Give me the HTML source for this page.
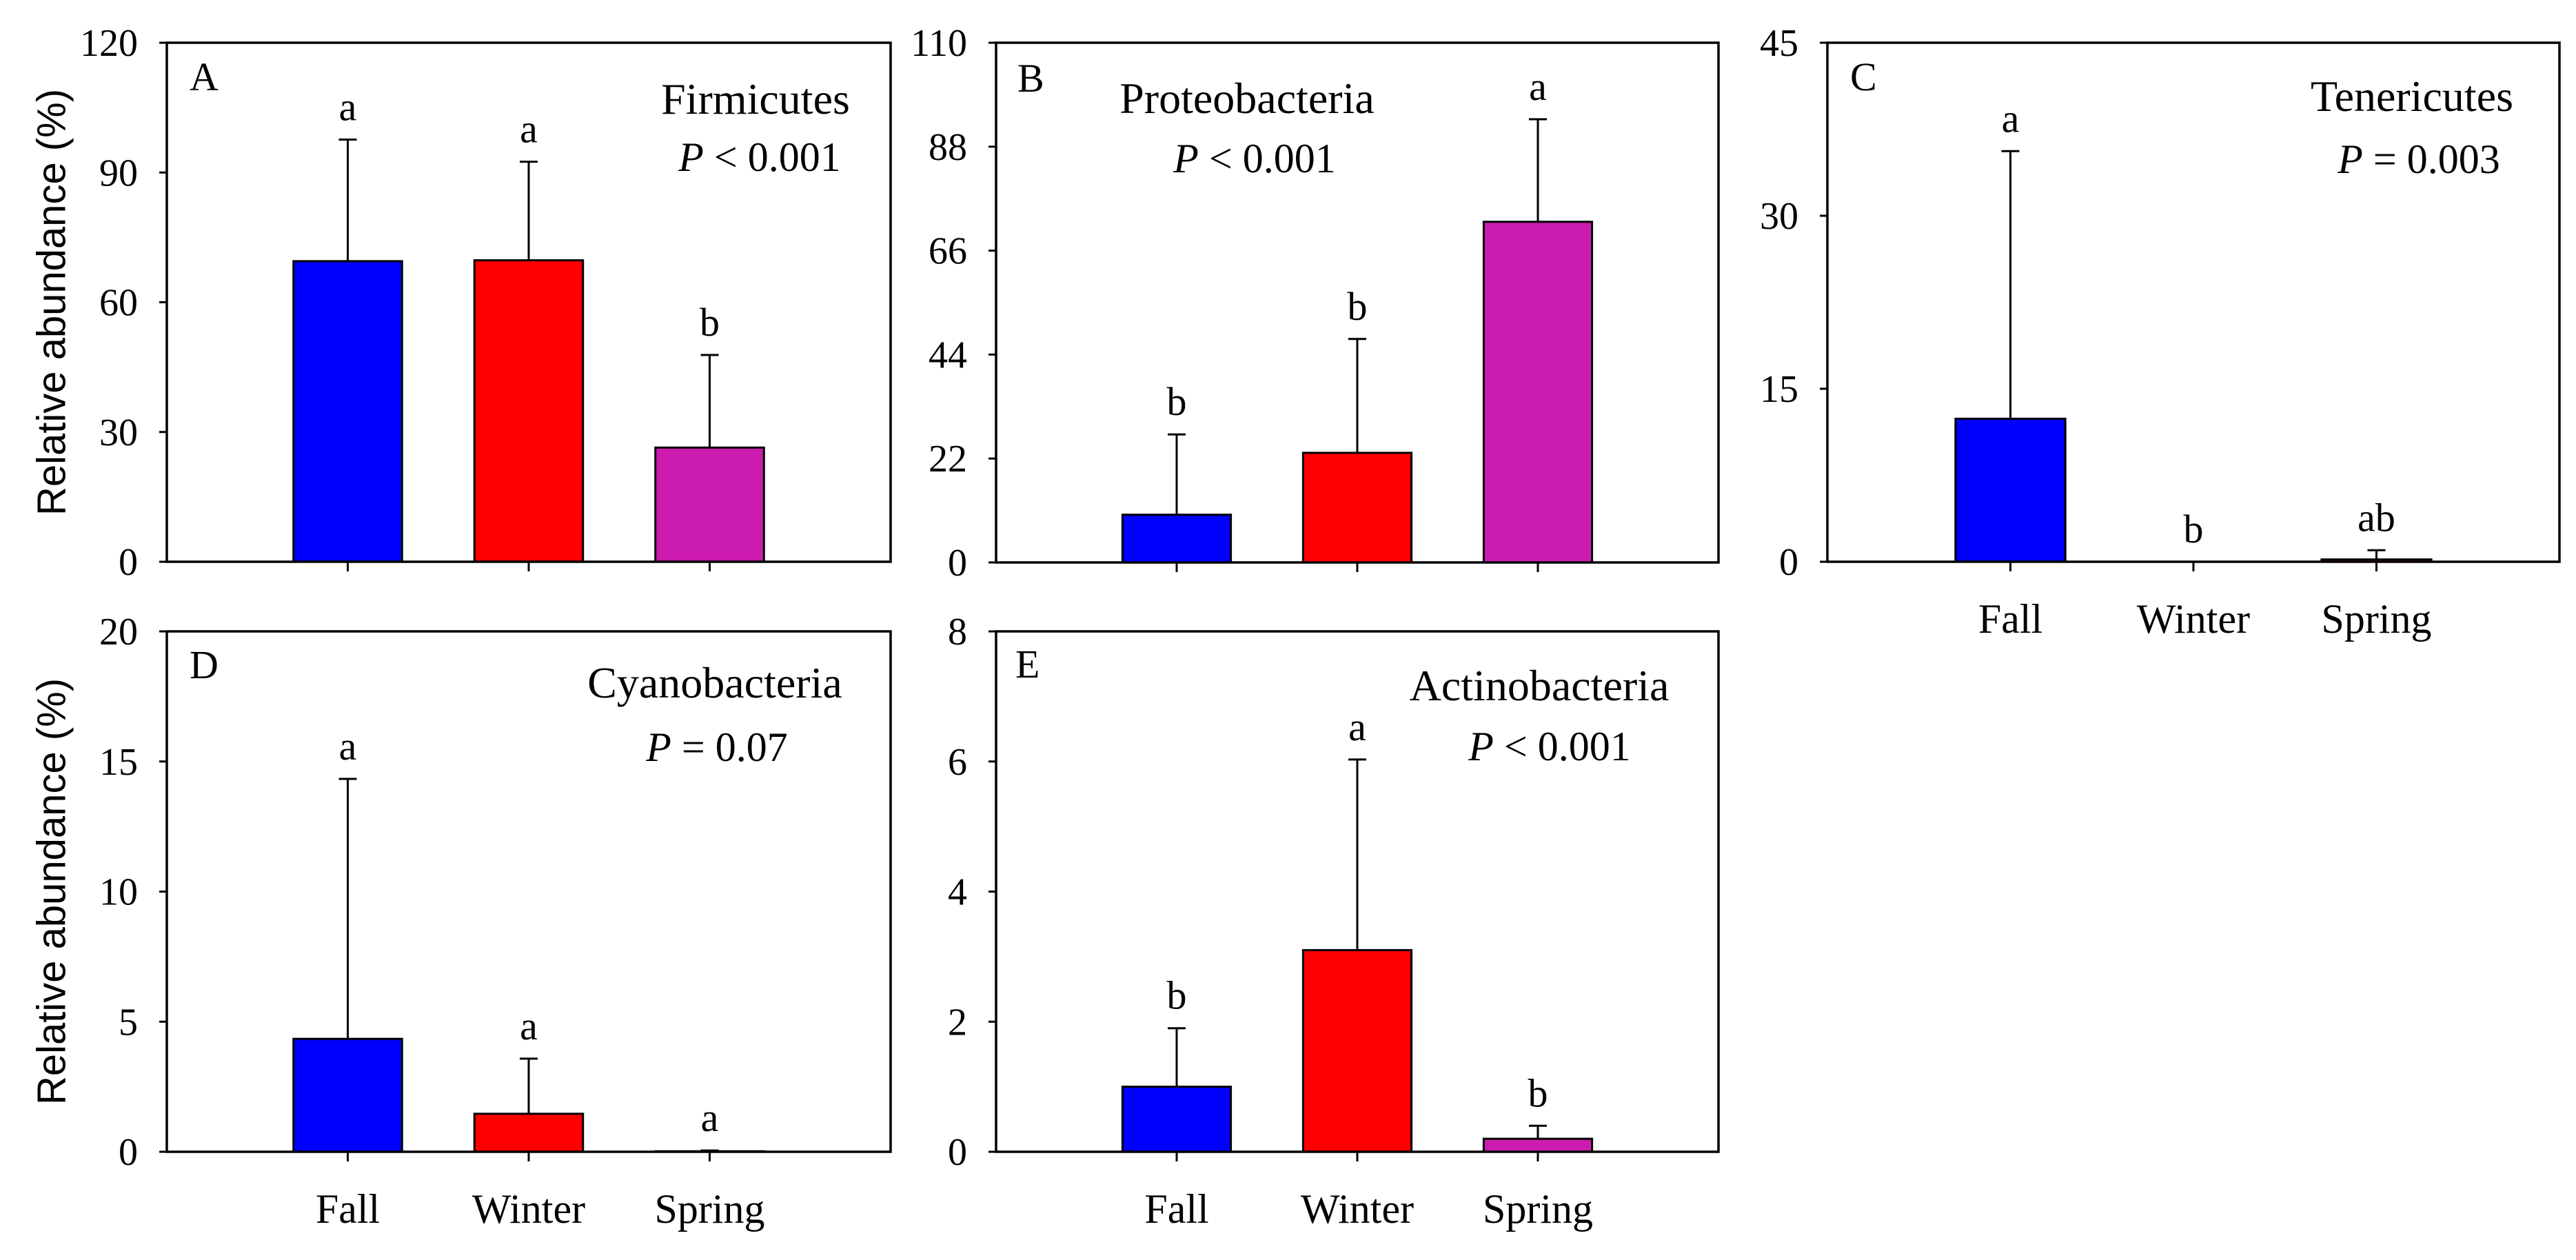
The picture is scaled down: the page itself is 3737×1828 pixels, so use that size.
<!DOCTYPE html>
<html><head><meta charset="utf-8"><style>
html,body{margin:0;padding:0;background:#fff;}
svg{display:block;}
text{font-family:"Liberation Serif",serif;fill:#000;}
</style></head>
<body>
<svg id="fig" width="3737" height="1828" viewBox="0 0 3737 1828" xmlns="http://www.w3.org/2000/svg"></svg>
<script>
const categories = ["Fall", "Winter", "Spring"];
const colors = ["#0000FF", "#FF0000", "#CC1CB0"];

const valuesA = [69.5, 69.7, 26.4];
const errA = [97.6, 92.5, 47.8];
const lettersA = ["a", "a", "b"];
const ticksA = [0, 30, 60, 90, 120];

const valuesB = [10.1, 23.2, 72.1];
const errB = [27.1, 47.3, 93.8];
const lettersB = ["b", "b", "a"];
const ticksB = [0, 22, 44, 66, 88, 110];

const valuesC = [12.4, 0, 0.2];
const errC = [35.6, 0, 1.0];
const lettersC = ["a", "b", "ab"];
const ticksC = [0, 15, 30, 45];

const valuesD = [4.34, 1.46, 0.02];
const errD = [14.33, 3.58, 0.05];
const lettersD = ["a", "a", "a"];
const ticksD = [0, 5, 10, 15, 20];

const valuesE = [1.0, 3.1, 0.2];
const errE = [1.9, 6.03, 0.4];
const lettersE = ["b", "a", "b"];
const ticksE = [0, 2, 4, 6, 8];

const NS = "http://www.w3.org/2000/svg";
const svg = document.getElementById("fig");
function mk(tag, attrs, parent) {
  const e = document.createElementNS(NS, tag);
  for (const k in attrs) e.setAttribute(k, attrs[k]);
  (parent || svg).appendChild(e);
  return e;
}

const panels = [
  {id:"a", letter:"A", name:"Firmicutes", p:"< 0.001", L:242, R:1292, T:62, B:815, vals:valuesA, errs:errA, lets:lettersA, ticks:ticksA,
   letX:275, letY:131, nameX:1096, nameY:165, pX:1102, pY:248, xlab:false, ytitle:true},
  {id:"b", letter:"B", name:"Proteobacteria", p:"< 0.001", L:1445, R:2493, T:62, B:816, vals:valuesB, errs:errB, lets:lettersB, ticks:ticksB,
   letX:1476, letY:133, nameX:1809, nameY:164, pX:1820, pY:250, xlab:false, ytitle:false},
  {id:"c", letter:"C", name:"Tenericutes", p:"= 0.003", L:2651, R:3713, T:62, B:815, vals:valuesC, errs:errC, lets:lettersC, ticks:ticksC,
   letX:2684, letY:131, nameX:3499, nameY:161, pX:3509, pY:251, xlab:true, ytitle:false},
  {id:"d", letter:"D", name:"Cyanobacteria", p:"= 0.07", L:242, R:1292, T:916, B:1671, vals:valuesD, errs:errD, lets:lettersD, ticks:ticksD,
   letX:275, letY:984, nameX:1037, nameY:1012, pX:1040, pY:1104, xlab:true, ytitle:true},
  {id:"e", letter:"E", name:"Actinobacteria", p:"< 0.001", L:1445, R:2493, T:916, B:1671, vals:valuesE, errs:errE, lets:lettersE, ticks:ticksE,
   letX:1473, letY:983, nameX:2233, nameY:1016, pX:2248, pY:1103, xlab:true, ytitle:false}
];

panels.forEach(pn => {
  const g = mk("g", {});
  
  
  const ymax = pn.ticks[pn.ticks.length - 1];
  const y = v => pn.B - (v / ymax) * (pn.B - pn.T);
  const x = i => pn.L + (i + 1) * (pn.R - pn.L) / 4;
  const bw = 0.6 * (pn.R - pn.L) / 4;

  // bars
  pn.vals.forEach((v, i) => {
    const h = pn.B - y(v);
    const r = mk("rect", {x: x(i) - bw/2, y: y(v), width: bw, height: Math.max(h, 0), fill: colors[i], stroke: "#000", "stroke-width": 3}, g);
    
    
    if (pn.errs[i] > v) {
      const e = mk("path", {d: `M${x(i)},${y(v)}V${y(pn.errs[i])}M${x(i)-13},${y(pn.errs[i])}H${x(i)+13}`, stroke: "#000", "stroke-width": 3, fill: "none"}, g);
      
      
    }
    const t = mk("text", {x: x(i), y: y(Math.max(pn.errs[i], v)) - 28, "text-anchor": "middle", "font-size": 58}, g);
    t.textContent = pn.lets[i];
    
    
    const tk = mk("line", {x1: x(i), x2: x(i), y1: pn.B, y2: pn.B + 14, stroke: "#000", "stroke-width": 3}, g);
    
    
    if (pn.xlab) {
      const xl = mk("text", {x: x(i), y: pn.B + 103, "text-anchor": "middle", "font-size": 60}, g);
      xl.textContent = categories[i];
      
      
    }
  });

  // frame
  const fr = mk("rect", {x: pn.L, y: pn.T, width: pn.R - pn.L, height: pn.B - pn.T, fill: "none", stroke: "#000", "stroke-width": 3.5}, g);
  
  

  // y ticks
  pn.ticks.forEach(tv => {
    const l = mk("line", {x1: pn.L - 11, x2: pn.L, y1: y(tv), y2: y(tv), stroke: "#000", "stroke-width": 3}, g);
    
    
    const t = mk("text", {x: pn.L - 42, y: y(tv) + 19, "text-anchor": "end", "font-size": 56}, g);
    t.textContent = tv;
    
    
  });

  const lt = mk("text", {x: pn.letX, y: pn.letY, "font-size": 58}, g);
  lt.textContent = pn.letter;
  
  
  const nt = mk("text", {x: pn.nameX, y: pn.nameY, "text-anchor": "middle", "font-size": 64}, g);
  nt.textContent = pn.name;
  
  
  const pt = mk("text", {x: pn.pX, y: pn.pY, "text-anchor": "middle", "font-size": 60}, g);
  const ts = mk("tspan", {"font-style": "italic"}, pt);
  ts.textContent = "P";
  pt.appendChild(document.createTextNode(" " + pn.p));
  
  

  if (pn.ytitle) {
    const cy = (pn.T + pn.B) / 2;
    const yt = mk("text", {x: 79, y: cy, "text-anchor": "middle", "font-size": 58, transform: `rotate(-90 79 ${cy})`, "dominant-baseline": "middle", style: "font-family:'Liberation Sans',sans-serif"}, g);
    yt.textContent = "Relative abundance (%)";
    
    
  }
});
</script>
</body></html>
